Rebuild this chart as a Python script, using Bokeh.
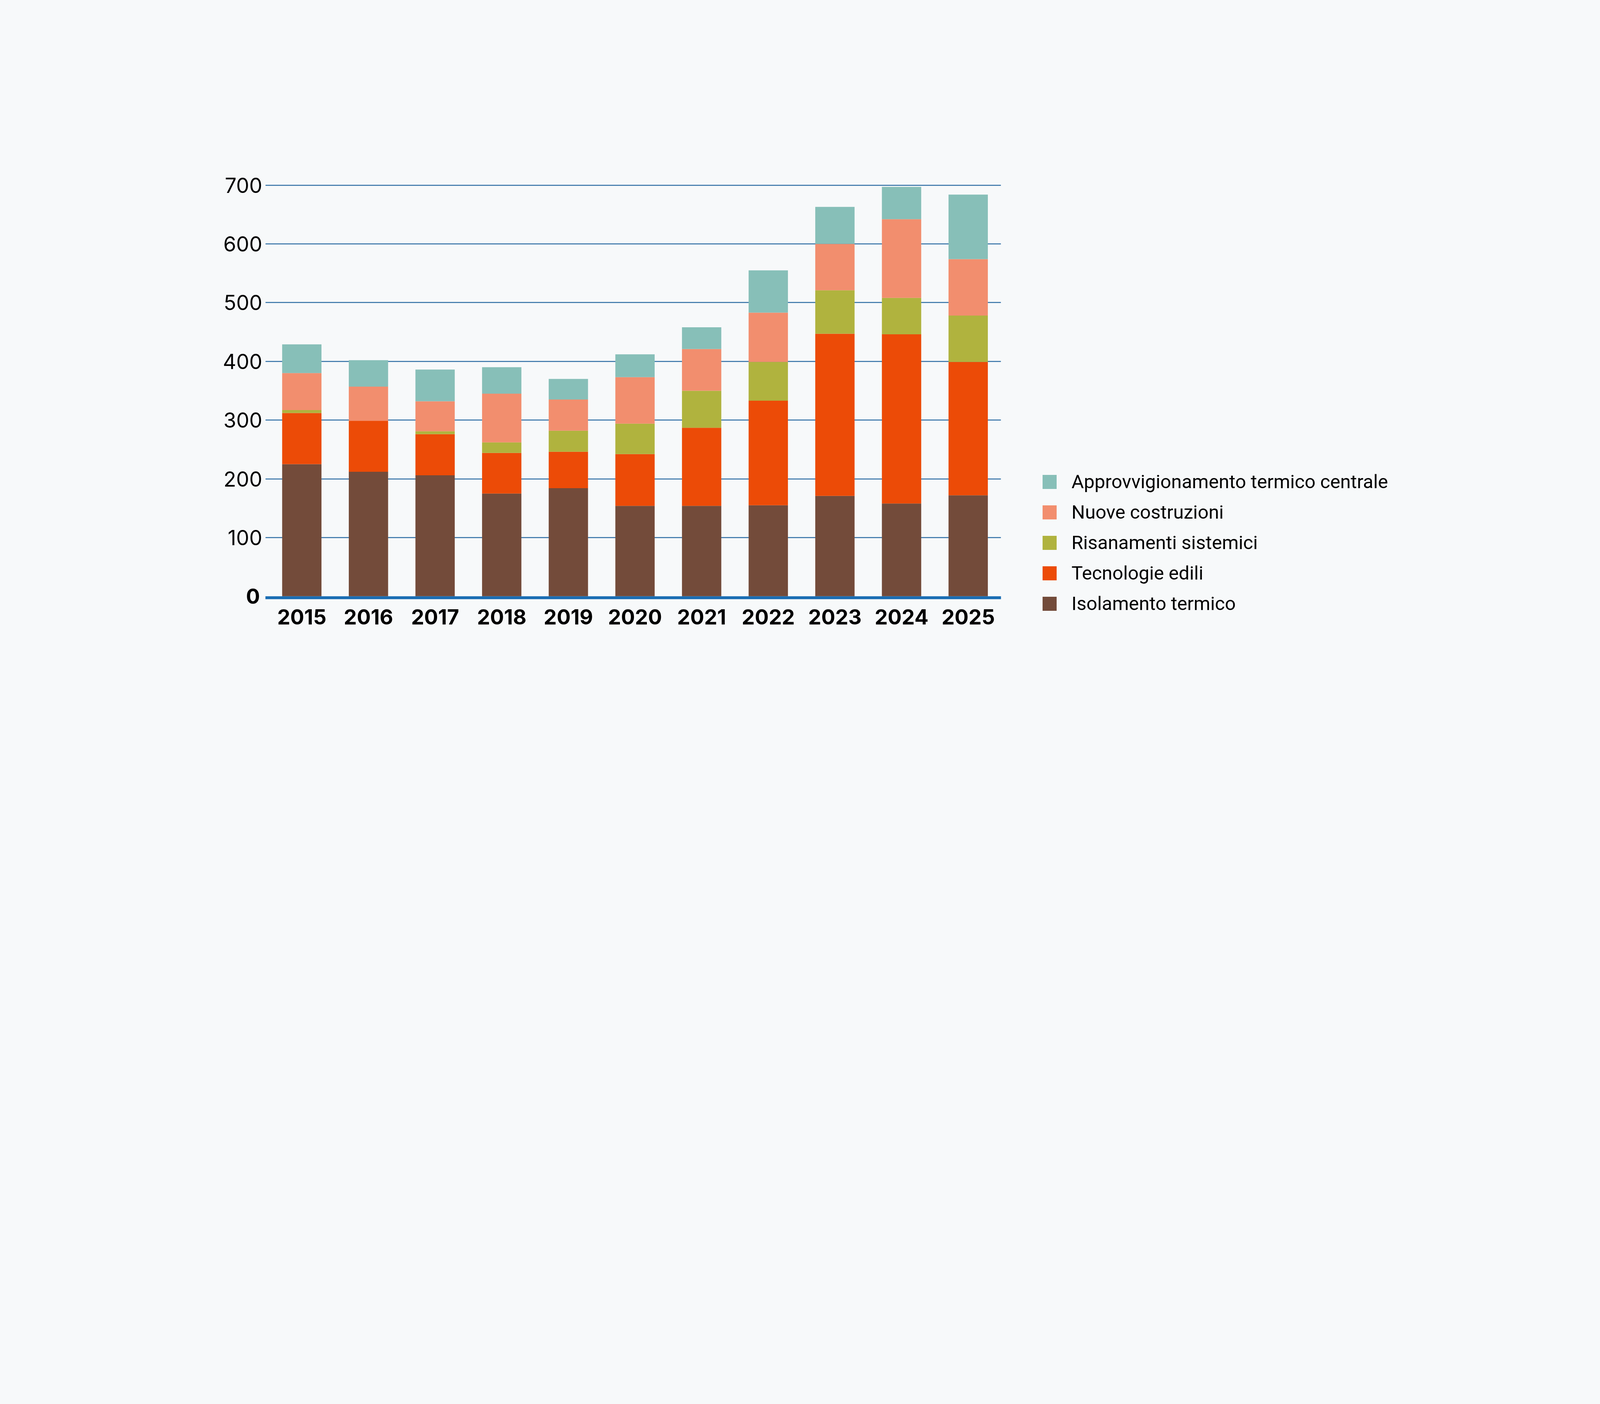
from bokeh.plotting import figure
from bokeh.models import ColumnDataSource, Range1d, FixedTicker, LinearAxis, Legend, LegendItem
from bokeh.embed import file_html
from bokeh.resources import INLINE

# ---- data ----
years = [2015, 2016, 2017, 2018, 2019, 2020, 2021, 2022, 2023, 2024, 2025]
isolamento = [225, 212, 206, 175, 184, 154, 154, 155, 171, 158, 172]
tecnologie = [87, 87, 70, 69, 62, 88, 133, 178, 276, 288, 227]
risanamenti = [5, 0, 5, 18, 36, 52, 63, 66, 74, 62, 79]
nuove = [63, 58, 51, 83, 53, 79, 71, 84, 79, 134, 96]
approvvigionamento = [49, 45, 54, 45, 35, 39, 37, 72, 63, 55, 110]

series_keys = ["isolamento", "tecnologie", "risanamenti", "nuove", "approvvigionamento"]
series_labels = ["Isolamento termico", "Tecnologie edili", "Risanamenti sistemici",
                 "Nuove costruzioni", "Approvvigionamento termico centrale"]
series_colors = ["#734b3a", "#ec4b07", "#b0b33e", "#f28e6e", "#87bfb8"]
y_ticks = [0, 100, 200, 300, 400, 500, 600, 700]

BG = "#f7f9fa"
H = 2036

source = ColumnDataSource(dict(years=years, isolamento=isolamento, tecnologie=tecnologie,
                               risanamenti=risanamenti, nuove=nuove,
                               approvvigionamento=approvvigionamento))

p = figure(width=4096, height=H, output_backend="svg", toolbar_location=None,
           x_range=Range1d(2014.454, 2025.492), y_range=Range1d(-2.45, 717),
           min_border_left=679, min_border_right=1534, min_border_top=448,
           min_border_bottom=506, background_fill_color=BG, border_fill_color=BG,
           outline_line_color=None)

renderers = p.vbar_stack(series_keys, x="years", width=0.59, color=series_colors,
                         line_color=None, source=source)

# x axis (also the zero line)
p.xaxis.ticker = FixedTicker(ticks=years)
p.xaxis.major_label_text_font = "Inter"
p.xaxis.major_label_text_font_size = "53px"
p.xaxis.major_label_text_font_style = "bold"
p.xaxis.major_label_text_color = "#000000"
p.xaxis.axis_line_color = "#1a6db3"
p.xaxis.axis_line_width = 7.4
p.xaxis.major_tick_line_color = None
p.xaxis.minor_tick_line_color = None
p.xaxis.major_tick_out = 0
p.xaxis.major_tick_in = 0
p.xaxis.major_label_standoff = 29
p.xgrid.grid_line_color = None

# inner y axis: bold zero
p.yaxis.ticker = FixedTicker(ticks=y_ticks[:1])
p.yaxis.major_label_text_font = "Inter"
p.yaxis.major_label_text_font_size = "53px"
p.yaxis.major_label_text_font_style = "bold"
p.yaxis.major_label_text_color = "#000000"
p.yaxis.axis_line_color = None
p.yaxis.major_tick_line_color = None
p.yaxis.minor_tick_line_color = None
p.yaxis.major_tick_out = 0
p.yaxis.major_tick_in = 0
p.yaxis.axis_label_standoff = 0
p.yaxis.major_label_standoff = 14

# outer y axis: regular labels
ax2 = LinearAxis(ticker=FixedTicker(ticks=y_ticks[1:]),
                 major_label_text_font="Inter", major_label_text_font_size="53px",
                 major_label_text_color="#000000", axis_line_color=None,
                 major_tick_line_color=None, minor_tick_line_color=None,
                 major_tick_out=0, major_tick_in=0, minor_tick_out=0, minor_tick_in=0,
                 axis_label_standoff=0, major_label_standoff=-45)
p.add_layout(ax2, "left")

p.ygrid.ticker = FixedTicker(ticks=y_ticks[1:])
p.ygrid.grid_line_color = "#2e6da4"
p.ygrid.grid_line_width = 2.3

# ---- legend (side panel, not clipped to the frame) ----
items = [LegendItem(label=lab, renderers=[r]) for lab, r in zip(series_labels, renderers)]
items = items[::-1]
legend = Legend(items=items, location=(102, -44), orientation="vertical",
                glyph_width=45, glyph_height=45, label_height=45, spacing=21,
                label_standoff=34, padding=0, margin=0,
                label_text_font="Roboto", label_text_font_size="48.6px",
                label_text_color="#000000", border_line_color=None,
                background_fill_alpha=0)
p.add_layout(legend, "right")

html = file_html(p, INLINE)
html = html.replace("</head>", "<style>html, body { background-color: %s; }</style></head>" % BG, 1)
open("out.html", "w").write(html)
